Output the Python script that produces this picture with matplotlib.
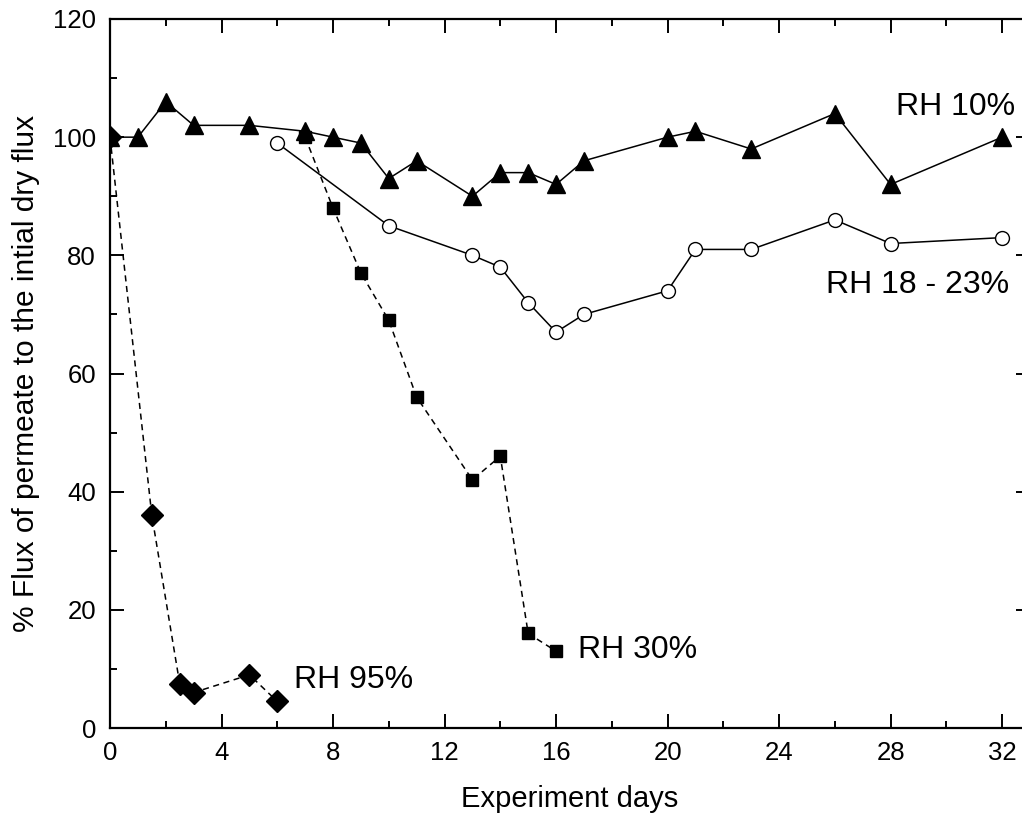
import matplotlib
matplotlib.use('Agg')
import matplotlib.pyplot as plt
from matplotlib.ticker import MultipleLocator

plt.rcParams['font.family'] = ['Liberation Sans', 'DejaVu Sans']

# ── data ─────────────────────────────────────────────────────────────────────
rh10_days = [0, 1, 2, 3, 5, 7, 8, 9, 10, 11, 13, 14, 15, 16, 17, 20, 21, 23, 26, 28, 32]
rh10_flux = [100, 100, 106, 102, 102, 101, 100, 99, 93, 96, 90, 94, 94, 92, 96, 100, 101, 98, 104, 92, 100]

rh18_days = [6, 10, 13, 14, 15, 16, 17, 20, 21, 23, 26, 28, 32]
rh18_flux = [99, 85, 80, 78, 72, 67, 70, 74, 81, 81, 86, 82, 83]

rh30_days = [7, 8, 9, 10, 11, 13, 14, 15, 16]
rh30_flux = [100, 88, 77, 69, 56, 42, 46, 16, 13]

rh95_days = [0, 1.5, 2.5, 3, 5, 6]
rh95_flux = [100, 36, 7.5, 6, 9, 4.5]

W, H, DPI = 1022, 825, 100

fig = plt.figure(figsize=(W / DPI, H / DPI), dpi=DPI, facecolor='white')
ax = fig.add_axes([110 / W, 97 / H, 920 / W, 709 / H])

dash = (0, (4, 3))
ax.plot(rh95_days, rh95_flux, color='black', lw=1.1, ls=dash,
        marker='D', ms=11, mfc='black', mec='black', zorder=3)
ax.plot(rh30_days, rh30_flux, color='black', lw=1.1, ls=dash,
        marker='s', ms=8, mfc='black', mec='black', zorder=3)
ax.plot(rh18_days, rh18_flux, color='black', lw=1.1, ls='-',
        marker='o', ms=10, mfc='white', mec='black', mew=1.0, zorder=4)
ax.plot(rh10_days, rh10_flux, color='black', lw=1.1, ls='-',
        marker='^', ms=12.5, mfc='black', mec='black', zorder=5)

# ── series labels ─────────────────────────────────────────────────────────────
lab_kw = dict(fontsize=23, color='black', ha='left', va='baseline')
ax.text(28.2, 103.8, 'RH 10%', **lab_kw)
ax.text(25.7, 73.6, 'RH 18 - 23%', **lab_kw)
ax.text(16.8, 11.8, 'RH 30%', **lab_kw)
ax.text(6.6, 6.8, 'RH 95%', **lab_kw)

# ── axes ─────────────────────────────────────────────────────────────────────
ax.set_xlim(0, 33)
ax.set_ylim(0, 120)
ax.xaxis.set_major_locator(MultipleLocator(4))
ax.xaxis.set_minor_locator(MultipleLocator(2))
ax.yaxis.set_major_locator(MultipleLocator(20))
ax.yaxis.set_minor_locator(MultipleLocator(10))

for s in ax.spines.values():
    s.set_linewidth(1.6)

ax.tick_params(which='major', direction='in', length=10, width=1.4,
               top=True, right=True, labelsize=18.5)
ax.tick_params(which='minor', direction='in', length=5, width=1.4,
               top=True, right=False)
ax.tick_params(axis='x', which='major', pad=9)
ax.tick_params(axis='y', which='major', pad=10)

ax.set_xlabel('Experiment days', fontsize=21, labelpad=15)
ax.set_ylabel('% Flux of permeate to the intial dry flux', fontsize=21.5, labelpad=9)

fig.savefig('out.png', dpi=DPI, facecolor='white')
